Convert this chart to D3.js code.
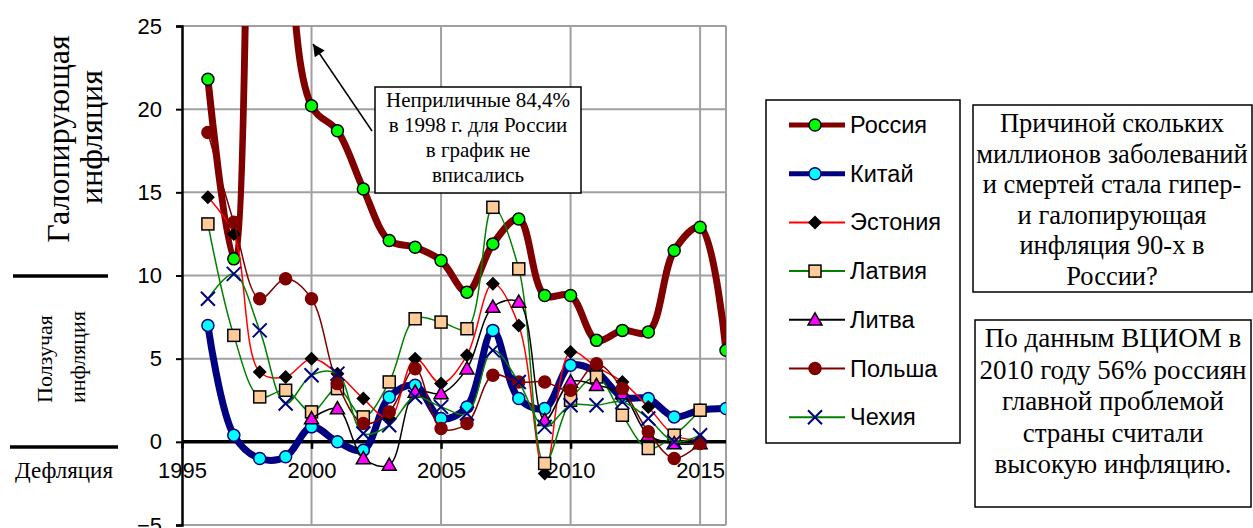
<!DOCTYPE html>
<html><head><meta charset="utf-8">
<script src="https://cdn.jsdelivr.net/npm/d3@7"></script>
<style>body{margin:0;background:#fff}svg{display:block}</style>
</head><body>
<svg id="c" width="1253" height="528"></svg>
<script>
const years = [1996,1997,1998,1999,2000,2001,2002,2003,2004,2005,2006,2007,2008,2009,2010,2011,2012,2013,2014,2015,2016];
const russia    = [21.8,11.0,84.4,36.5,20.2,18.7,15.2,12.1,11.7,10.9,9.0,11.9,13.4,8.8,8.8,6.1,6.7,6.6,11.5,12.9,5.5];
const china     = [7.0,0.4,-1.0,-0.9,0.9,0.0,-0.5,2.7,3.4,1.4,2.1,6.7,2.6,2.0,4.6,4.2,2.7,2.6,1.5,1.9,2.0];
const estonia   = [14.7,12.5,4.2,3.9,5.0,4.1,2.6,1.4,5.0,3.5,5.2,9.5,7.0,-1.9,5.4,4.5,3.6,2.1,0.4,0.1,null];
const latvia    = [13.1,6.4,2.7,3.1,1.8,3.2,1.5,3.6,7.4,7.2,6.8,14.1,10.4,-1.3,2.5,3.9,1.6,-0.4,0.4,1.9,null];
const lithuania = [null,null,null,null,1.4,2.0,-1.0,-1.4,3.0,2.9,4.4,8.1,8.4,1.3,3.6,3.4,2.9,0.4,-0.1,-0.1,null];
const poland    = [18.6,13.2,8.6,9.8,8.6,3.5,1.1,1.8,4.4,0.8,1.1,4.0,3.6,3.6,3.1,4.7,3.2,0.6,-1.0,-0.1,null];
const czechia   = [8.6,10.1,6.7,2.3,4.0,4.1,0.5,1.0,2.7,2.1,1.7,5.5,3.6,0.9,2.2,2.2,2.4,1.4,0.0,0.4,null];
const seriesNames = ["Россия","Китай","Эстония","Латвия","Литва","Польша","Чехия"];
const yTicks = [-5,0,5,10,15,20,25];
const xTicks = [1995,2000,2005,2010,2015];

const svg = d3.select("#c");
const x = d3.scaleLinear().domain([1995,2016]).range([182,726]);
const y = d3.scaleLinear().domain([-5,25]).range([525,26]);

const series = [
  {name:seriesNames[0], data:russia,   line:"#800000", lw:7,   marker:"circle", fill:"#00ff00", stroke:"#000", size:6},
  {name:seriesNames[1], data:china,    line:"#000080", lw:7,   marker:"circle", fill:"#00ffff", stroke:"#000080", size:6},
  {name:seriesNames[2], data:estonia,  line:"#ff0000", lw:1.5, marker:"diamond", fill:"#000", stroke:"#000", size:7},
  {name:seriesNames[3], data:latvia,   line:"#008000", lw:1.5, marker:"square", fill:"#ffcc99", stroke:"#000", size:6},
  {name:seriesNames[4], data:lithuania,line:"#000000", lw:1.5, marker:"triangle", fill:"#ff00ff", stroke:"#000", size:7},
  {name:seriesNames[5], data:poland,   line:"#800000", lw:1.5, marker:"dot", fill:"#800000", stroke:"#800000", size:6},
  {name:seriesNames[6], data:czechia,  line:"#008000", lw:1.5, marker:"x", fill:"none", stroke:"#000080", size:7}
];

// grid
const grid = svg.append("g");
[-5,5,10,15,20,25].forEach(v=>grid.append("line").attr("x1",x(1995)).attr("x2",x(2016)).attr("y1",y(v)).attr("y2",y(v)).attr("stroke","#a0a0a0").attr("stroke-width",2));
[2000,2005,2010,2015,2016].forEach(v=>grid.append("line").attr("x1",x(v)).attr("x2",x(v)).attr("y1",y(25)).attr("y2",y(-5)).attr("stroke","#a0a0a0").attr("stroke-width",2));

// y axis
const yAxis = d3.axisLeft(y).tickValues(yTicks).tickSize(6).tickPadding(14).tickFormat(d3.format("d"));
const ya = svg.append("g").attr("transform",`translate(${x(1995)},0)`).call(yAxis);
ya.select(".domain").attr("stroke","#000").attr("stroke-width",2.5);
ya.selectAll(".tick line").attr("stroke","#000").attr("stroke-width",2);
ya.selectAll("text").attr("font-family","Arial, 'Liberation Sans', sans-serif").attr("font-size",22).attr("fill","#000");

// x axis at zero
const xAxis = d3.axisBottom(x).tickValues(xTicks).tickSize(7).tickPadding(14).tickFormat(d3.format("d"));
const xa = svg.append("g").attr("transform",`translate(0,${y(0)})`).call(xAxis);
xa.select(".domain").remove();
xa.append("line").attr("x1",x(1995)).attr("x2",x(2016)).attr("stroke","#000").attr("stroke-width",3.5);
xa.selectAll(".tick line").attr("stroke","#000").attr("stroke-width",2.5);
xa.selectAll("text").attr("font-family","Arial, 'Liberation Sans', sans-serif").attr("font-size",22).attr("fill","#000");

// clip
svg.append("clipPath").attr("id","plot").append("rect").attr("x",x(1995)).attr("y",y(25)).attr("width",x(2016)-x(1995)).attr("height",y(-5)-y(25));

const curve = d3.curveCatmullRom.alpha(0.5);
const lineGen = d3.line().defined(d=>d[1]!==null).x(d=>x(d[0])).y(d=>y(d[1])).curve(curve);

function drawMarker(g, s, cx, cy) {
  const r = s.size;
  if (s.marker==="circle" || s.marker==="dot") {
    g.append("circle").attr("cx",cx).attr("cy",cy).attr("r",r).attr("fill",s.fill).attr("stroke",s.stroke).attr("stroke-width",1.5);
  } else if (s.marker==="diamond") {
    g.append("path").attr("d",`M${cx},${cy-r}L${cx+r},${cy}L${cx},${cy+r}L${cx-r},${cy}Z`).attr("fill",s.fill);
  } else if (s.marker==="square") {
    g.append("rect").attr("x",cx-r).attr("y",cy-r).attr("width",2*r).attr("height",2*r).attr("fill",s.fill).attr("stroke",s.stroke).attr("stroke-width",1.5);
  } else if (s.marker==="triangle") {
    g.append("path").attr("d",`M${cx},${cy-r}L${cx+r},${cy+r*0.75}L${cx-r},${cy+r*0.75}Z`).attr("fill",s.fill).attr("stroke",s.stroke).attr("stroke-width",1.5);
  } else if (s.marker==="x") {
    g.append("path").attr("d",`M${cx-r},${cy-r}L${cx+r},${cy+r}M${cx+r},${cy-r}L${cx-r},${cy+r}`).attr("stroke",s.stroke).attr("stroke-width",2).attr("fill","none");
  }
}

const plot = svg.append("g").attr("clip-path","url(#plot)");
series.forEach(s=>{
  const pts = years.map((yr,i)=>[yr,s.data[i]]).filter(d=>d[1]!==null);
  plot.append("path").datum(pts).attr("d",lineGen).attr("fill","none").attr("stroke",s.line).attr("stroke-width",s.lw).attr("stroke-linejoin","round").attr("stroke-linecap","round");
  const mg = plot.append("g");
  pts.forEach(p=>drawMarker(mg,s,x(p[0]),y(p[1])));
});

// annotation
const defs = svg.append("defs");
defs.append("marker").attr("id","arr").attr("viewBox","0 0 10 10").attr("refX",10).attr("refY",5)
  .attr("markerWidth",16).attr("markerHeight",12).attr("markerUnits","userSpaceOnUse").attr("orient","auto")
  .append("path").attr("d","M0,0L10,5L0,10Z").attr("fill","#000");
svg.append("line").attr("x1",372).attr("y1",131).attr("x2",313).attr("y2",44).attr("stroke","#000").attr("stroke-width",1.5).attr("marker-end","url(#arr)");
svg.append("rect").attr("x",375).attr("y",87).attr("width",206).attr("height",106).attr("fill","#fff").attr("stroke","#000").attr("stroke-width",1.5);
const ann = ["Неприличные 84,4%","в 1998 г. для России","в график не","вписались"];
ann.forEach((t,i)=>svg.append("text").attr("x",478).attr("y",107+i*25).attr("text-anchor","middle").attr("font-family","'Liberation Serif','Times New Roman',serif").attr("font-size",21).text(t));

// legend
const lg = svg.append("g");
lg.append("rect").attr("x",766).attr("y",100).attr("width",194).attr("height",343).attr("fill","#fff").attr("stroke","#000").attr("stroke-width",1.5);
series.forEach((s,i)=>{
  const ly = 125 + i*48.7;
  lg.append("line").attr("x1",789).attr("x2",845).attr("y1",ly).attr("y2",ly).attr("stroke",s.line).attr("stroke-width",s.lw>2?5:2);
  drawMarker(lg,s,815,ly);
  lg.append("text").attr("x",850).attr("y",ly+8).attr("font-family","Arial, 'Liberation Sans', sans-serif").attr("font-size",23.5).text(s.name);
});

// text boxes
const serif = "'Liberation Serif','Times New Roman',serif";
svg.append("rect").attr("x",973).attr("y",105).attr("width",279).attr("height",187).attr("fill","#fff").attr("stroke","#000").attr("stroke-width",1.5);
["Причиной скольких","миллионов заболеваний","и смертей стала гипер-","и галопирующая","инфляция 90-х в","России?"].forEach((t,i)=>
  svg.append("text").attr("x",1112).attr("y",132+i*30.5).attr("text-anchor","middle").attr("font-family",serif).attr("font-size",26.5).text(t));
svg.append("rect").attr("x",975).attr("y",320).attr("width",276).attr("height",187).attr("fill","#fff").attr("stroke","#000").attr("stroke-width",1.5);
["По данным ВЦИОМ в","2010 году 56% россиян","главной проблемой","страны считали","высокую инфляцию."].forEach((t,i)=>
  svg.append("text").attr("x",1113).attr("y",347+i*31.5).attr("text-anchor","middle").attr("font-family",serif).attr("font-size",27).text(t));

// left labels
function vtext(t,cx,cy,fs){
  svg.append("text").attr("transform",`translate(${cx},${cy}) rotate(-90)`).attr("text-anchor","middle").attr("font-family",serif).attr("font-size",fs).text(t);
}
vtext("Галопирующая",69,139,32);
vtext("инфляция",102,137,32);
svg.append("line").attr("x1",13).attr("x2",108).attr("y1",276).attr("y2",276).attr("stroke","#000").attr("stroke-width",3.5);
vtext("Ползучая",52,359,22);
vtext("инфляция",85,357,22);
svg.append("line").attr("x1",10).attr("x2",118).attr("y1",447).attr("y2",447).attr("stroke","#000").attr("stroke-width",3.5);
svg.append("text").attr("x",64).attr("y",478).attr("text-anchor","middle").attr("font-family",serif).attr("font-size",23).text("Дефляция");
</script>
</body></html>
